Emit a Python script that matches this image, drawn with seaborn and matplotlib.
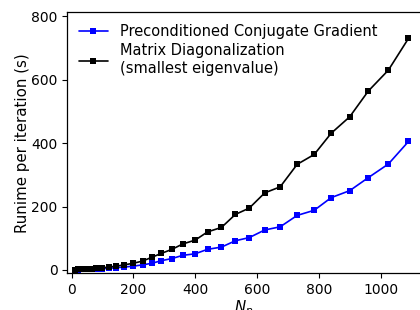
import numpy as np
import pandas as pd
import matplotlib
matplotlib.use("Agg")
import matplotlib.pyplot as plt
import seaborn as sns

n_p = [10, 20, 35, 50, 65, 80, 100, 120, 145, 170, 200, 230, 260, 290, 325,
       360, 400, 440, 485, 530, 575, 625, 675, 730, 785, 840, 900, 960, 1025, 1090]
pcg_time = [0.5, 1, 1.5, 2, 2.5, 3, 4, 5, 7, 9, 12, 16, 21, 29, 36,
            46, 51, 65, 72, 92, 102, 126, 136, 172, 188, 228, 250, 291, 334, 405]
diag_time = [1, 1.5, 2, 3, 4, 5, 7, 9, 12, 16, 21, 28, 40, 52, 65,
             82, 94, 120, 134, 175, 195, 243, 262, 333, 364, 431, 483, 564, 630, 730]
series_names = ["Preconditioned Conjugate Gradient",
                "Matrix Diagonalization\n(smallest eigenvalue)"]
x_ticks = [0, 200, 400, 600, 800, 1000]
y_ticks = [0, 200, 400, 600, 800]

df = pd.DataFrame({
    "Np": n_p + n_p,
    "time": pcg_time + diag_time,
    "method": [series_names[0]] * len(n_p) + [series_names[1]] * len(n_p),
})

sns.set_theme(style="ticks")
plt.rcParams["font.family"] = ["DejaVu Sans"]
plt.rcParams["font.size"] = 10
for key in ["text.color", "axes.labelcolor", "xtick.color", "ytick.color",
            "xtick.labelcolor", "ytick.labelcolor", "axes.edgecolor"]:
    plt.rcParams[key] = "black"

fig = plt.figure(figsize=(4.2, 3.1), dpi=100)
ax = fig.add_axes([0.160, 0.119, 0.842, 0.841])

sns.lineplot(data=df, x="Np", y="time", hue="method", style="method",
             hue_order=series_names, style_order=series_names,
             palette=["#0000ff", "#000000"], markers=["s", "s"], dashes=False,
             markersize=4.5, markeredgewidth=0, linewidth=1.2, ax=ax)

ax.set_xlim(-14, 1130)
ax.set_ylim(-10, 812)
ax.set_xticks(x_ticks)
ax.set_yticks(y_ticks)
ax.tick_params(labelsize=10, width=0.8, length=3.5, colors="black")
ax.set_xlabel("$N_p$", fontsize=10.8, labelpad=1, color="black")
ax.set_ylabel("Runime per iteration (s)", fontsize=10.8, labelpad=1, color="black")
for s in ax.spines.values():
    s.set_linewidth(0.9)
    s.set_color("black")

leg = ax.legend(loc="upper left", frameon=False, fontsize=10.5,
                handlelength=2.0, borderaxespad=0.4, labelspacing=0.3)
for t in leg.get_texts():
    t.set_color("black")

fig.savefig("out.png", dpi=100)
